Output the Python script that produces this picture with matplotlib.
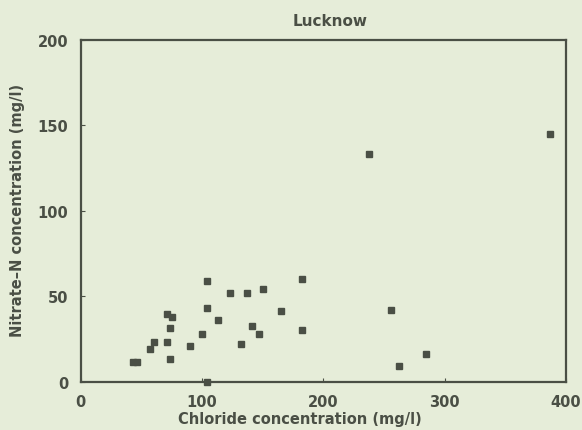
import numpy as np
import matplotlib.pyplot as plt

plt.rcParams['font.family'] = ['DejaVu Sans']
plt.rcParams['font.weight'] = 'bold'

# Lucknow: chloride vs nitrate-N (mg/l)
chloride = [43, 46, 57, 60, 71, 71, 75, 74, 74, 90, 100, 104, 104, 104, 113,
            123, 132, 137, 141, 147, 150.5, 165, 182, 182.5, 238, 256, 262, 285, 387]
nitrate = [11.5, 11.5, 19, 23, 23, 39.6, 37.8, 31.4, 13.3, 20.7, 28, 59, 43, 0, 36,
           52, 22, 52, 32.4, 28, 54, 41, 60, 30, 133, 42, 9, 16, 145]

bg = '#e6edd9'
ink = '#4a4f45'

fig = plt.figure(figsize=(5.82, 4.31), dpi=100, facecolor=bg)
ax = fig.add_axes([0.1387, 0.1125, 0.8338, 0.7935])
ax.set_facecolor(bg)

ax.plot(chloride, nitrate, linestyle='none', marker='s', markersize=5,
        color=ink, clip_on=False, zorder=3)

ax.set_xlim(0, 400)
ax.set_ylim(0, 200)
ax.set_xticks([0, 100, 200, 300, 400])
ax.set_yticks([0, 50, 100, 150, 200])
ax.tick_params(direction='in', length=3, width=0.8, color=ink,
               labelsize=10.5, labelcolor=ink, pad=9)
for lab in ax.get_xticklabels() + ax.get_yticklabels():
    lab.set_fontweight('bold')

for sp in ax.spines.values():
    sp.set_color(ink)
    sp.set_linewidth(1.6)

fig.text(330 / 582, 1 - 21.5 / 431, 'Lucknow', ha='center', va='center',
         fontsize=11, fontweight='bold', color=ink)
fig.text(300 / 582, 1 - 420 / 431, 'Chloride concentration (mg/l)',
         ha='center', va='center', fontsize=10.5, fontweight='bold', color=ink)
fig.text(18 / 582, 1 - 210 / 431, 'Nitrate\u2013N concentration (mg/l)',
         ha='center', va='center', rotation=90, fontsize=10.5,
         fontweight='bold', color=ink)

fig.savefig('out.png', dpi=100, facecolor=bg)
